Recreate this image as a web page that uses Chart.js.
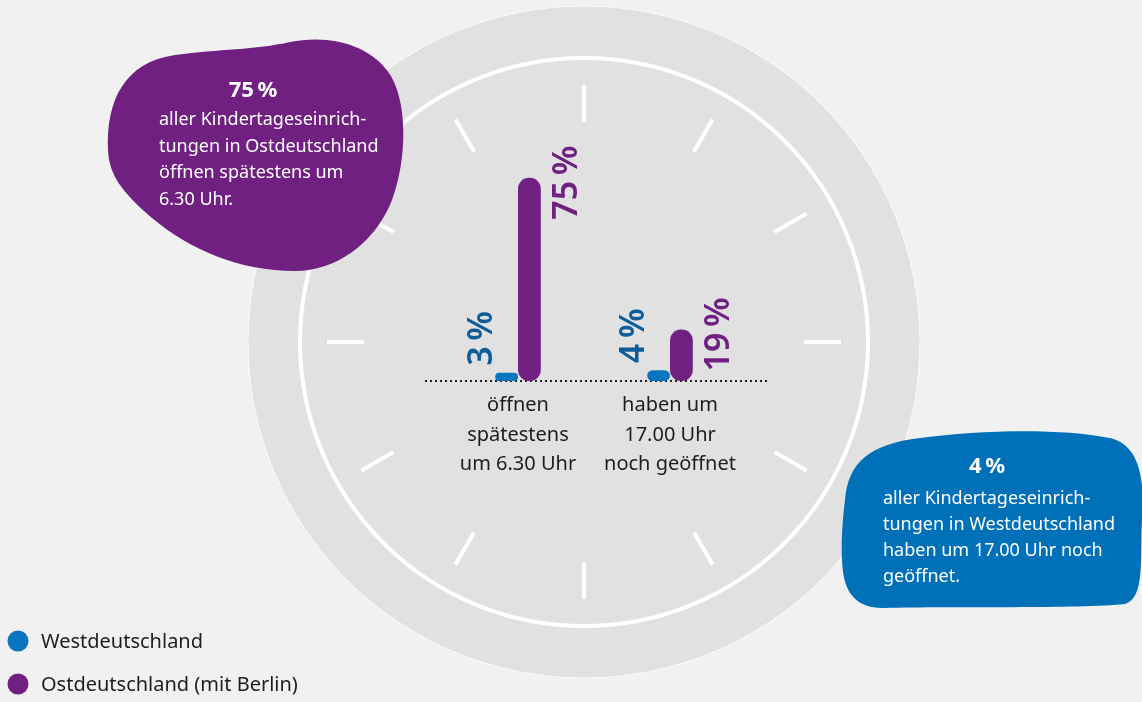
<!DOCTYPE html>
<html lang="de">
<head>
<meta charset="utf-8">
<title>Öffnungszeiten Kindertageseinrichtungen</title>
<script src="https://cdn.jsdelivr.net/npm/chart.js@4.4.1/dist/chart.umd.min.js"></script>
<style>
    html, body { margin: 0; padding: 0; background: #f1f1f1; }
    #chart { display: block; }
</style>
</head>
<body>
<canvas id="chart" width="1142" height="702"></canvas>
<script>
// Daten
const categories = [
    ['öffnen', 'spätestens', 'um 6.30 Uhr'],
    ['haben um', '17.00 Uhr', 'noch geöffnet']
];
const seriesNames = ['Westdeutschland', 'Ostdeutschland (mit Berlin)'];
const westValues = [3, 4];
const ostValues = [75, 19];

// Texte der beiden Sprechblasen
const ostCalloutTitle = '75\u2009%';
const ostCalloutLines = ['aller Kindertageseinrich-', 'tungen in Ostdeutschland', 'öffnen spätestens um', '6.30 Uhr.'];
const westCalloutTitle = '4\u2009%';
const westCalloutLines = ['aller Kindertageseinrich-', 'tungen in Westdeutschland', 'haben um 17.00 Uhr noch', 'geöffnet.'];

// Farben
const BLUE = '#0a75bf';
const BLUE_TEXT = '#0c5d9a';
const PURPLE = '#6f2080';
const BLUE_BLOB = '#0071b9';
const TEXT = '#1d1d1b';
const FONT = '"Noto Sans", "DejaVu Sans", sans-serif';

// Uhr im Hintergrund + Sprechblasen + Grundlinie
const backgroundPlugin = {
    id: 'clockBackground',
    beforeDatasetsDraw(chart) {
        const ctx = chart.ctx;
        const cx = 584, cy = 342;
        ctx.save();
        ctx.fillStyle = '#f1f1f1';
        ctx.fillRect(0, 0, chart.width, chart.height);

        // äußerer Kreis
        ctx.beginPath();
        ctx.arc(cx, cy, 336, 0, Math.PI * 2);
        ctx.fillStyle = '#e1e1e1';
        ctx.fill();
        ctx.strokeStyle = 'rgba(255,255,255,0.8)';
        ctx.lineWidth = 1;
        ctx.stroke();

        // innerer Ring
        ctx.beginPath();
        ctx.arc(cx, cy, 284, 0, Math.PI * 2);
        ctx.strokeStyle = '#ffffff';
        ctx.lineWidth = 4;
        ctx.stroke();

        // Stundenstriche
        ctx.lineWidth = 4;
        ctx.lineCap = 'butt';
        for (let i = 0; i < 12; i++) {
            const a = i * Math.PI / 6;
            ctx.beginPath();
            ctx.moveTo(cx + Math.cos(a) * 220, cy + Math.sin(a) * 220);
            ctx.lineTo(cx + Math.cos(a) * 257, cy + Math.sin(a) * 257);
            ctx.stroke();
        }

        // lila Sprechblase
        ctx.beginPath();
        ctx.moveTo(108, 150);
        ctx.bezierCurveTo(106, 100, 125, 62, 175, 55);
        ctx.bezierCurveTo(220, 49, 255, 50, 290, 42);
        ctx.bezierCurveTo(330, 34, 372, 45, 391, 76);
        ctx.bezierCurveTo(410, 110, 405, 170, 390, 205);
        ctx.bezierCurveTo(372, 245, 335, 271, 295, 271);
        ctx.bezierCurveTo(240, 271, 190, 250, 152, 218);
        ctx.bezierCurveTo(122, 192, 109, 175, 108, 150);
        ctx.closePath();
        ctx.fillStyle = PURPLE;
        ctx.fill();

        // blaue Sprechblase
        ctx.beginPath();
        ctx.moveTo(845, 500);
        ctx.bezierCurveTo(848, 462, 870, 444, 920, 438);
        ctx.bezierCurveTo(980, 430, 1060, 428, 1110, 438);
        ctx.bezierCurveTo(1140, 445, 1145, 480, 1142, 520);
        ctx.bezierCurveTo(1140, 560, 1145, 598, 1125, 604);
        ctx.bezierCurveTo(1080, 609, 950, 606, 885, 608);
        ctx.bezierCurveTo(852, 609, 843, 588, 842, 560);
        ctx.bezierCurveTo(841, 540, 843, 515, 845, 500);
        ctx.closePath();
        ctx.fillStyle = BLUE_BLOB;
        ctx.fill();

        // Texte in den Blasen
        ctx.fillStyle = '#ffffff';
        ctx.textBaseline = 'alphabetic';
        ctx.textAlign = 'center';
        ctx.font = 'bold 22px ' + FONT;
        ctx.fillText(ostCalloutTitle, 253, 97);
        ctx.fillText(westCalloutTitle, 987, 473);
        ctx.textAlign = 'left';
        ctx.font = '18px ' + FONT;
        ostCalloutLines.forEach((line, i) => ctx.fillText(line, 159, 125 + i * 26.7));
        westCalloutLines.forEach((line, i) => ctx.fillText(line, 883, 504 + i * 26));

        // gepunktete Grundlinie
        const baseY = chart.scales.y.getPixelForValue(0);
        ctx.beginPath();
        ctx.setLineDash([2, 3]);
        ctx.moveTo(425, baseY);
        ctx.lineTo(768, baseY);
        ctx.strokeStyle = '#222222';
        ctx.lineWidth = 2;
        ctx.stroke();
        ctx.setLineDash([]);

        ctx.restore();
    }
};

// Wertebeschriftungen, Kategorien und Legende
const labelPlugin = {
    id: 'valueLabels',
    afterDatasetsDraw(chart) {
        const ctx = chart.ctx;
        ctx.save();

        // gedrehte Prozentwerte
        ctx.font = '600 34px ' + FONT;
        ctx.textBaseline = 'alphabetic';
        ctx.textAlign = 'left';
        chart.data.datasets.forEach((ds, di) => {
            const meta = chart.getDatasetMeta(di);
            meta.data.forEach((bar, i) => {
                const text = ds.data[i] + '\u2009%';
                let x, y;
                if (di === 0) {
                    x = bar.x - 15;
                    y = bar.y - 7;
                    ctx.fillStyle = BLUE_TEXT;
                } else {
                    x = bar.x + 48;
                    y = bar.y + 42;
                    ctx.fillStyle = PURPLE;
                }
                ctx.save();
                ctx.translate(x, y);
                ctx.rotate(-Math.PI / 2);
                ctx.fillText(text, 0, 0);
                ctx.restore();
            });
        });

        // Kategorienbeschriftung unter der Linie
        ctx.fillStyle = TEXT;
        ctx.font = '20px ' + FONT;
        ctx.textAlign = 'center';
        chart.data.labels.forEach((lines, i) => {
            const x = chart.scales.x.getPixelForValue(i);
            lines.forEach((line, j) => ctx.fillText(line, x, 411 + j * 29.5));
        });

        // Legende
        ctx.textAlign = 'left';
        ctx.textBaseline = 'middle';
        ctx.font = '20px ' + FONT;
        chart.data.datasets.forEach((ds, di) => {
            const y = 641 + di * 43;
            ctx.beginPath();
            ctx.arc(18, y, 10.5, 0, Math.PI * 2);
            ctx.fillStyle = ds.backgroundColor;
            ctx.fill();
            ctx.fillStyle = TEXT;
            ctx.fillText(ds.label, 41, y + 1);
        });

        ctx.restore();
    }
};

const config = {
    type: 'bar',
    data: {
        labels: categories,
        datasets: [{
            label: seriesNames[0],
            data: westValues,
            backgroundColor: BLUE,
            borderRadius: 11,
            borderSkipped: false
        }, {
            label: seriesNames[1],
            data: ostValues,
            backgroundColor: PURPLE,
            borderRadius: 11,
            borderSkipped: false
        }]
    },
    options: {
        responsive: false,
        devicePixelRatio: 1,
        animation: false,
        layout: {
            padding: { left: 442, right: 396, top: 110, bottom: 321 }
        },
        datasets: {
            bar: { categoryPercentage: 0.3, barPercentage: 1 }
        },
        scales: {
            x: { display: false },
            y: { display: false, min: 0, max: 100 }
        },
        plugins: {
            legend: { display: false },
            tooltip: { enabled: false }
        }
    },
    plugins: [backgroundPlugin, labelPlugin]
};

const chart = new Chart(document.getElementById('chart').getContext('2d'), config);
console.log('Diagramm erstellt');
</script>
</body>
</html>
